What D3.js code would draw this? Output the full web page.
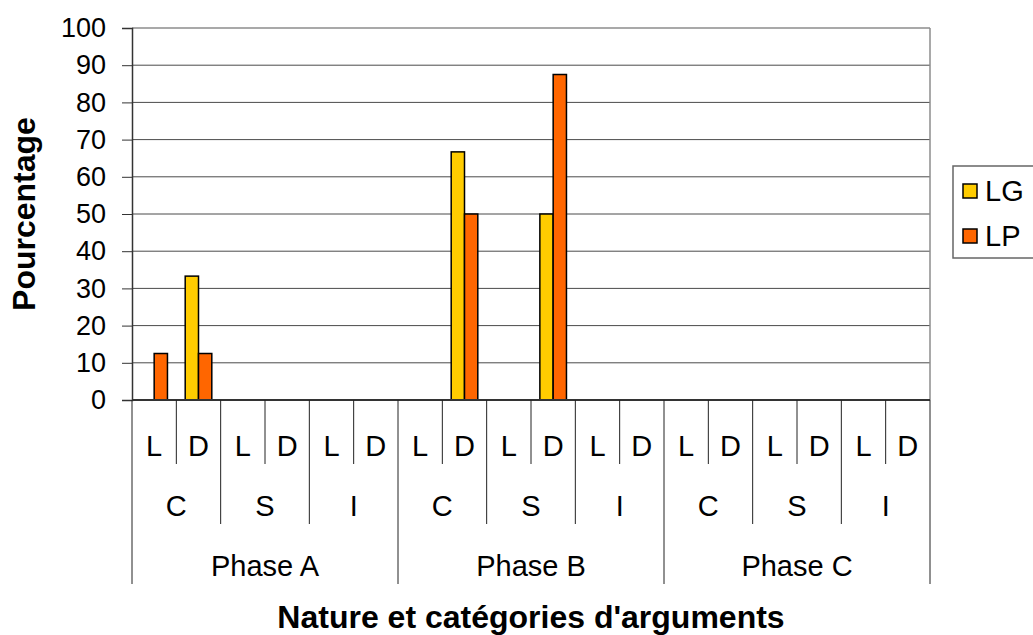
<!DOCTYPE html>
<html>
<head>
<meta charset="utf-8">
<script src="https://cdn.jsdelivr.net/npm/d3@7"></script>
<style>
  body { margin: 0; background: #fff; }
  text { font-family: Arial, "Liberation Sans", sans-serif; fill: #000; }
</style>
</head>
<body>
<svg id="chart" width="1033" height="635"></svg>
<script>
// data
const phases = ["Phase A", "Phase B", "Phase C"];
const groups = ["C", "S", "I"];
const kinds = ["L", "D"];
const series = ["LG", "LP"];
const colors = ["#FFCC00", "#FF6600"];
const yTicks = [0, 10, 20, 30, 40, 50, 60, 70, 80, 90, 100];

// one value per L/D slot, Phase A..C x C,S,I x L,D
const lgValues = [0, 33.3, 0, 0, 0, 0,  0, 66.7, 0, 50, 0, 0,  0, 0, 0, 0, 0, 0];
const lpValues = [12.5, 12.5, 0, 0, 0, 0,  0, 50, 0, 87.5, 0, 0,  0, 0, 0, 0, 0, 0];

const slots = [];
phases.forEach((p, pi) => groups.forEach((g, gi) => kinds.forEach((k, ki) => {
    slots.push({ id: pi + "-" + gi + "-" + ki, phase: p, group: g, kind: k });
})));

const svg = d3.select("#chart");
const plotL = 132, plotR = 930, plotT = 28, plotB = 400;

const x = d3.scaleBand().domain(slots.map(d => d.id)).range([plotL, plotR]).paddingInner(0).paddingOuter(0);
const xs = d3.scaleBand().domain(series).range([0, x.bandwidth()]).paddingInner(0).paddingOuter(0.667);
const y = d3.scaleLinear().domain([0, 100]).range([plotB, plotT]);

// gridlines
svg.append("g")
    .selectAll("line")
    .data(yTicks.filter(t => t > 0))
    .enter()
    .append("line")
    .attr("x1", plotL)
    .attr("x2", plotR)
    .attr("y1", d => y(d))
    .attr("y2", d => y(d))
    .attr("stroke", d => d === 100 ? "#8c8c8c" : "#4a4a4a")
    .attr("stroke-width", d => d === 100 ? 1.5 : 1);

// plot right border
svg.append("line")
    .attr("x1", plotR).attr("x2", plotR)
    .attr("y1", plotT).attr("y2", plotB)
    .attr("stroke", "#8c8c8c").attr("stroke-width", 1.5);

// y axis
const yAxis = svg.append("g")
    .attr("transform", "translate(" + plotL + ",0)")
    .call(d3.axisLeft(y).tickValues(yTicks).tickSize(10).tickPadding(16));
yAxis.select(".domain").attr("stroke", "#333").attr("stroke-width", 1.5);
yAxis.selectAll(".tick line").attr("stroke", "#333");
yAxis.selectAll("text")
    .style("font-family", "Arial, 'Liberation Sans', sans-serif")
    .style("font-size", "27px")
    .attr("fill", "#000");

// bars
const rows = slots.map((s, i) => ({ id: s.id, vals: [lgValues[i], lpValues[i]] }));
const barData = [];
rows.forEach(r => r.vals.forEach((v, si) => {
    if (v > 0) barData.push({ id: r.id, s: series[si], v: v, c: colors[si] });
}));

svg.append("g")
    .selectAll("rect")
    .data(barData)
    .enter()
    .append("rect")
    .attr("x", d => x(d.id) + xs(d.s))
    .attr("y", d => y(d.v))
    .attr("width", xs.bandwidth())
    .attr("height", d => y(0) - y(d.v))
    .attr("fill", d => d.c)
    .attr("stroke", "#000")
    .attr("stroke-width", 1.5);

// baseline
svg.append("line")
    .attr("x1", plotL).attr("x2", plotR)
    .attr("y1", plotB).attr("y2", plotB)
    .attr("stroke", "#333").attr("stroke-width", 2);

// multi level category axis
const w = x.bandwidth();
const lv1 = plotB + 64, lv2 = plotB + 124, lv3 = plotB + 184;

const dividers = d3.range(slots.length + 1).map(i => {
    let end = lv1;
    if (i % 2 === 0) end = lv2;
    if (i % 6 === 0) end = lv3;
    return { x: plotL + i * w, end: end };
});
svg.append("g")
    .selectAll("line")
    .data(dividers)
    .enter()
    .append("line")
    .attr("x1", d => d.x).attr("x2", d => d.x)
    .attr("y1", plotB).attr("y2", d => d.end)
    .attr("stroke", "#222").attr("stroke-width", 1);

svg.append("g")
    .selectAll("text")
    .data(slots)
    .enter()
    .append("text")
    .attr("x", d => x(d.id) + w / 2)
    .attr("y", plotB + 56)
    .attr("text-anchor", "middle")
    .style("font-size", "29px")
    .text(d => d.kind);

const groupCells = slots.filter((d, i) => i % 2 === 0);
svg.append("g")
    .selectAll("text")
    .data(groupCells)
    .enter()
    .append("text")
    .attr("x", d => x(d.id) + w)
    .attr("y", plotB + 116)
    .attr("text-anchor", "middle")
    .style("font-size", "29px")
    .text(d => d.group);

const phaseCells = slots.filter((d, i) => i % 6 === 0);
svg.append("g")
    .selectAll("text")
    .data(phaseCells)
    .enter()
    .append("text")
    .attr("x", d => x(d.id) + w * 3)
    .attr("y", plotB + 176)
    .attr("text-anchor", "middle")
    .style("font-size", "29px")
    .text(d => d.phase);

// axis titles
svg.append("text")
    .attr("x", (plotL + plotR) / 2)
    .attr("y", 628)
    .attr("text-anchor", "middle")
    .style("font-size", "32px")
    .style("font-weight", "bold")
    .text("Nature et catégories d'arguments");

svg.append("text")
    .attr("transform", "translate(35," + (plotT + plotB) / 2 + ") rotate(-90)")
    .attr("text-anchor", "middle")
    .style("font-size", "32px")
    .style("font-weight", "bold")
    .text("Pourcentage");

// legend
const legend = svg.append("g").attr("transform", "translate(953,166)");
legend.append("rect")
    .attr("width", 120).attr("height", 92)
    .attr("fill", "#fff").attr("stroke", "#666").attr("stroke-width", 1.5);
const item = legend.selectAll("g.item")
    .data(series)
    .enter()
    .append("g")
    .attr("class", "item")
    .attr("transform", (d, i) => "translate(10," + (25 + i * 45) + ")");
item.append("rect")
    .attr("x", 0).attr("y", -7)
    .attr("width", 14).attr("height", 14)
    .attr("fill", (d, i) => colors[i])
    .attr("stroke", "#000").attr("stroke-width", 1.5);
item.append("text")
    .attr("x", 22).attr("y", 10)
    .style("font-size", "29px")
    .text(d => d);
</script>
</body>
</html>
